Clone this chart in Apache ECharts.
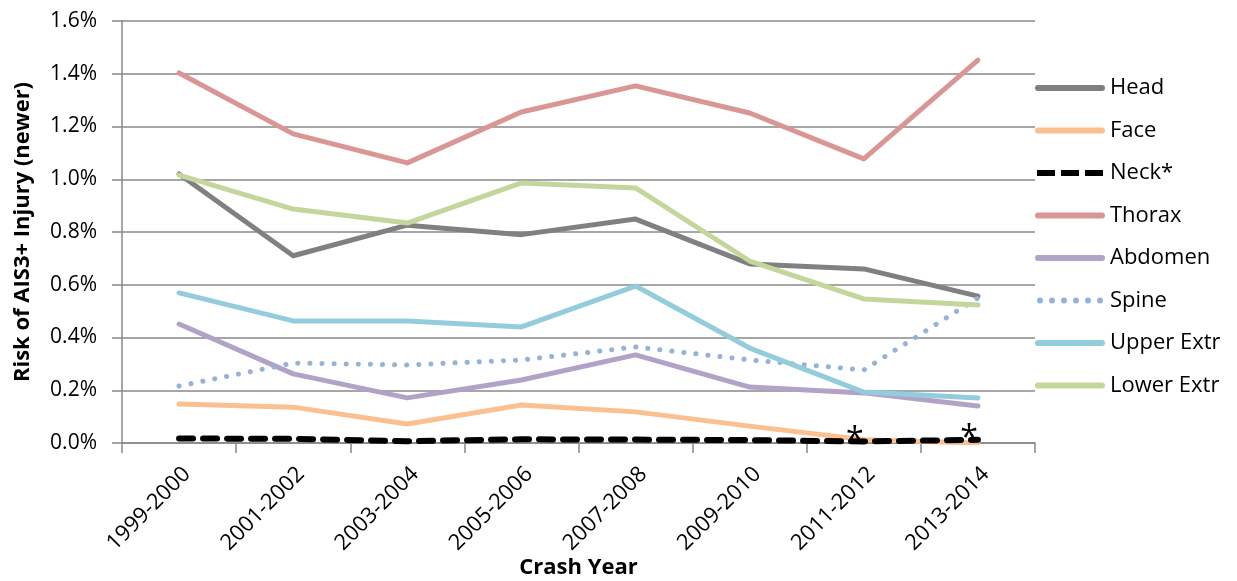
<!DOCTYPE html>
<html>
<head>
<meta charset="utf-8">
<script src="https://cdn.jsdelivr.net/npm/echarts@6/dist/echarts.min.js"></script>
<style>
  html, body { margin: 0; padding: 0; background: #fff; }
  #main { width: 1237px; height: 581px; }
</style>
</head>
<body>
<div id="main"></div>
<script>
// crash year groups
const years = ["1999-2000", "2001-2002", "2003-2004", "2005-2006", "2007-2008", "2009-2010", "2011-2012", "2013-2014"];

// risk of AIS3+ injury, in percent
const head = [1.02, 0.71, 0.826, 0.79, 0.849, 0.679, 0.66, 0.557];
const face = [0.148, 0.136, 0.072, 0.144, 0.118, 0.064, 0.012, 0.0];
const neck = [0.017, 0.016, 0.007, 0.014, 0.013, 0.011, 0.006, 0.012];
const thorax = [1.403, 1.172, 1.062, 1.255, 1.354, 1.251, 1.077, 1.452];
const abdomen = [0.451, 0.262, 0.171, 0.239, 0.334, 0.212, 0.19, 0.14];
const spine = [0.216, 0.303, 0.296, 0.315, 0.364, 0.315, 0.277, 0.55];
const upperExtr = [0.569, 0.463, 0.463, 0.44, 0.595, 0.36, 0.193, 0.171];
const lowerExtr = [1.016, 0.887, 0.834, 0.986, 0.967, 0.69, 0.546, 0.523];

// points flagged with an asterisk
const starred = [6, 7];

const font = "'Open Sans', 'Noto Sans', sans-serif";

function line(name, data, color, type, width) {
  return {
    name: name,
    type: "line",
    data: data,
    symbol: "none",
    lineStyle: { color: color, width: width || 5, type: type || "solid", cap: "round", join: "round" },
    itemStyle: { color: color },
    z: 3
  };
}

const neckSeries = line("Neck*", neck, "#000000", [14, 10], 6);
neckSeries.markPoint = {
  symbol: "circle",
  symbolSize: 2,
  itemStyle: { color: "rgba(0,0,0,0)" },
  label: { show: true, formatter: "*", position: "inside", offset: [-9, -1], fontSize: 32, color: "#000", fontFamily: font },
  data: starred.map(i => ({ coord: [years[i], neck[i]] }))
};

// legend icons (solid bar, dashes, dots)
const barIcon = "path://M3,0H67A3,3 0 0 1 67,6H3A3,3 0 0 1 3,0Z";
const dashIcon = "path://M2,0H20V6H2Z M26,0H44V6H26Z M50,0H68V6H50Z";
const dotIcon = "path://M0,3a3,3 0 1 0 6,0a3,3 0 1 0 -6,0Z M12,3a3,3 0 1 0 6,0a3,3 0 1 0 -6,0Z M24,3a3,3 0 1 0 6,0a3,3 0 1 0 -6,0Z M36,3a3,3 0 1 0 6,0a3,3 0 1 0 -6,0Z M48,3a3,3 0 1 0 6,0a3,3 0 1 0 -6,0Z M60,3a3,3 0 1 0 6,0a3,3 0 1 0 -6,0Z";

const chart = echarts.init(document.getElementById("main"));
chart.setOption({
  animation: false,
  backgroundColor: "#fff",
  grid: { left: 122, right: 202, top: 21, bottom: 138, outerBoundsMode: "none", containLabel: false },
  legend: {
    orient: "vertical",
    left: 1030,
    top: 72,
    itemWidth: 70,
    itemHeight: 6,
    itemGap: 20.5,
    textStyle: { fontSize: 22, color: "#000", fontFamily: font },
    data: [
      { name: "Head", icon: barIcon },
      { name: "Face", icon: barIcon },
      { name: "Neck*", icon: dashIcon },
      { name: "Thorax", icon: barIcon },
      { name: "Abdomen", icon: barIcon },
      { name: "Spine", icon: dotIcon },
      { name: "Upper Extr", icon: barIcon },
      { name: "Lower Extr", icon: barIcon }
    ]
  },
  xAxis: {
    type: "category",
    data: years,
    boundaryGap: true,
    name: "Crash Year",
    nameLocation: "middle",
    nameGap: 114,
    nameMoveOverlap: false,
    nameTextStyle: { fontSize: 22, fontWeight: "bold", color: "#000", fontFamily: font },
    axisLine: { lineStyle: { color: "#888", width: 1.5 } },
    axisTick: { show: true, length: 10, lineStyle: { color: "#888", width: 1.5 } },
    axisLabel: { rotate: 45, fontSize: 22, color: "#000", margin: 20, verticalAlign: "top", fontFamily: font }
  },
  yAxis: {
    type: "value",
    min: 0,
    max: 1.6,
    interval: 0.2,
    name: "Risk of AIS3+ Injury (newer)",
    nameLocation: "middle",
    nameGap: 88,
    nameTextStyle: { fontSize: 22, fontWeight: "bold", color: "#000", fontFamily: font },
    axisLine: { show: true, lineStyle: { color: "#888", width: 1.5 } },
    axisTick: { show: true, inside: false, length: 10, lineStyle: { color: "#888", width: 1.5 } },
    axisLabel: { fontSize: 21, color: "#000", margin: 25, fontFamily: font, formatter: v => v.toFixed(1) + "%" },
    splitLine: { lineStyle: { color: "#888", width: 1.5 } }
  },
  series: [
    line("Head", head, "#808080"),
    line("Face", face, "#FAC090"),
    neckSeries,
    line("Thorax", thorax, "#D99694"),
    line("Abdomen", abdomen, "#B3A2C7"),
    line("Spine", spine, "#95B3D7", [0.1, 12], 5),
    line("Upper Extr", upperExtr, "#93CDDD"),
    line("Lower Extr", lowerExtr, "#C3D69B")
  ]
});
</script>
</body>
</html>
